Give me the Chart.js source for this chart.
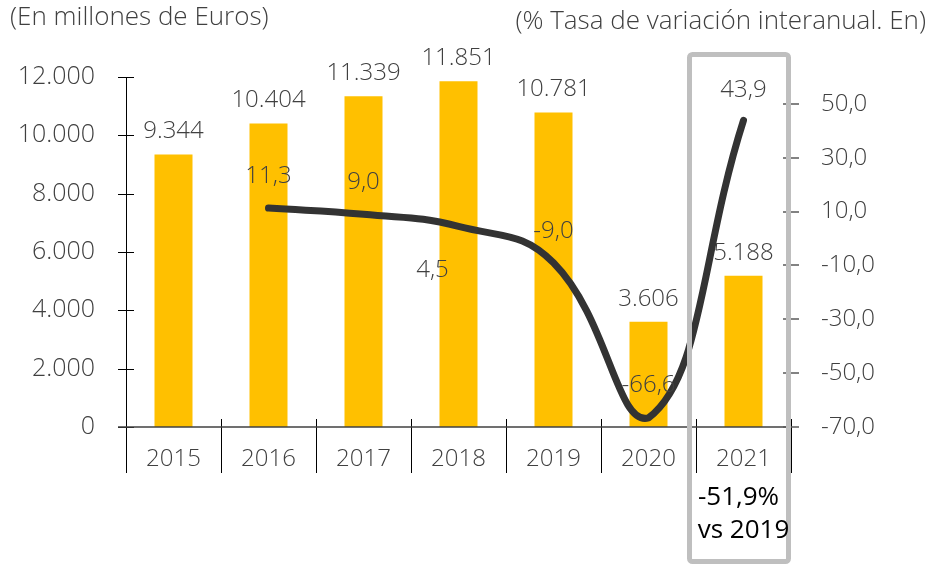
<!DOCTYPE html>
<html>
<head>
<meta charset="utf-8">
<script src="https://cdn.jsdelivr.net/npm/chart.js@4"></script>
<style>
    html, body { margin: 0; padding: 0; background: #fff; }
    #grafico { display: block; }
</style>
</head>
<body>
<canvas id="grafico" width="931" height="565"></canvas>
<script>
// datos
var anios = ['2015', '2016', '2017', '2018', '2019', '2020', '2021'];
var ventas = [9344, 10404, 11339, 11851, 10781, 3606, 5188];
var tasa = [null, 11.3, 9.0, 4.5, -9.0, -66.6, 43.9];
var ticksIzq = [0, 2000, 4000, 6000, 8000, 10000, 12000];
var ticksDer = [-70, -50, -30, -10, 10, 30, 50];
var tituloIzq = '(En millones de Euros)';
var tituloDer = '(% Tasa de variación interanual. En)';
var nota = ['-51,9%', 'vs 2019'];

// desplazamiento de las etiquetas de la linea (px)
var despTasa = [null, [0, -32], [0, -32], [-26, 44], [0, -32], [0, -33], [0, -30]];

var FUENTE = '"Open Sans", sans-serif';
var GRIS_TEXTO = '#404040';

function miles(v) {
    return String(v).replace(/\B(?=(\d{3})+(?!\d))/g, '.');
}
function coma(v) {
    return v.toFixed(1).replace('.', ',');
}

var decoracion = {
    id: 'decoracion',
    afterDatasetsDraw: function (chart) {
        var ctx = chart.ctx;
        var area = chart.chartArea;
        var x = chart.scales.x, y = chart.scales.y, y1 = chart.scales.y1;
        var paso = (area.right - area.left) / anios.length;

        ctx.save();

        // titulos
        ctx.fillStyle = GRIS_TEXTO;
        ctx.font = '300 26px ' + FUENTE;
        ctx.textBaseline = 'middle';
        ctx.textAlign = 'left';
        ctx.fillText(tituloIzq, 10, 18);
        ctx.textAlign = 'right';
        ctx.fillText(tituloDer, 926, 22);

        // eje izquierdo
        ctx.strokeStyle = '#000';
        ctx.lineWidth = 1;
        ctx.beginPath();
        ctx.moveTo(area.left + 0.5, area.top);
        ctx.lineTo(area.left + 0.5, area.bottom + 46);
        y.ticks.forEach(function (t) {
            var py = Math.round(y.getPixelForValue(t.value)) + 0.5;
            ctx.moveTo(area.left - 8, py);
            ctx.lineTo(area.left + 8, py);
        });
        // separadores de categorias
        for (var i = 1; i <= anios.length; i++) {
            var sx = Math.round(area.left + i * paso) + 0.5;
            ctx.moveTo(sx, area.bottom - 8);
            ctx.lineTo(sx, area.bottom + 46);
        }
        ctx.stroke();

        // eje x
        ctx.strokeStyle = '#404040';
        ctx.lineWidth = 1.5;
        ctx.beginPath();
        ctx.moveTo(area.left - 8, area.bottom);
        ctx.lineTo(area.right, area.bottom);
        ctx.stroke();

        // marcas eje derecho
        ctx.strokeStyle = '#595959';
        ctx.lineWidth = 1.5;
        ctx.beginPath();
        y1.ticks.forEach(function (t) {
            var py = Math.round(y1.getPixelForValue(t.value));
            ctx.moveTo(area.right - 8, py);
            ctx.lineTo(area.right + 8, py);
        });
        ctx.stroke();

        // etiquetas de barras
        ctx.fillStyle = GRIS_TEXTO;
        ctx.font = '300 24px ' + FUENTE;
        ctx.textAlign = 'center';
        ctx.textBaseline = 'middle';
        var barras = chart.getDatasetMeta(0).data;
        barras.forEach(function (b, i) {
            ctx.fillText(miles(ventas[i]), b.x, b.y - 23);
        });

        // etiquetas de la tasa
        var puntos = chart.getDatasetMeta(1).data;
        puntos.forEach(function (p, i) {
            if (tasa[i] === null) return;
            var d = despTasa[i];
            ctx.fillText(coma(tasa[i]), p.x + d[0], p.y + d[1]);
        });

        // recuadro 2021
        var cx = x.getPixelForValue(anios.length - 1);
        var izq = cx - 54, der = cx + 45;
        ctx.strokeStyle = '#BFBFBF';
        ctx.lineWidth = 5;
        ctx.beginPath();
        ctx.roundRect(izq, 54.5, der - izq, 507, 3);
        ctx.stroke();

        ctx.fillStyle = '#000';
        ctx.font = '400 26px ' + FUENTE;
        ctx.fillText(nota[0], cx - 5, 498);
        ctx.fillText(nota[1], cx, 531);

        ctx.restore();
    }
};

var ctx = document.getElementById('grafico').getContext('2d');
var chart = new Chart(ctx, {
    data: {
        labels: anios,
        datasets: [{
            type: 'bar',
            label: 'Ventas',
            data: ventas,
            yAxisID: 'y',
            backgroundColor: '#FFC000',
            barPercentage: 0.4,
            categoryPercentage: 1,
            order: 1
        }, {
            type: 'line',
            label: 'Tasa',
            data: tasa,
            yAxisID: 'y1',
            borderColor: '#333333',
            borderWidth: 7,
            borderCapStyle: 'round',
            borderJoinStyle: 'round',
            pointRadius: 0,
            tension: 0.45,
            fill: false,
            order: 0
        }]
    },
    options: {
        responsive: false,
        animation: false,
        devicePixelRatio: 1,
        layout: { padding: { top: 77, left: 0, right: 0, bottom: 0 } },
        plugins: {
            legend: { display: false },
            tooltip: { enabled: false }
        },
        scales: {
            x: {
                offset: true,
                grid: { display: false },
                border: { display: false },
                ticks: {
                    color: GRIS_TEXTO,
                    padding: 10,
                    font: { family: FUENTE, size: 24, weight: 300 }
                },
                afterFit: function (s) { s.height = 138; }
            },
            y: {
                position: 'left',
                min: 0,
                max: 12000,
                grid: { display: false },
                border: { display: false },
                afterBuildTicks: function (s) {
                    s.ticks = ticksIzq.map(function (v) { return { value: v }; });
                },
                ticks: {
                    color: GRIS_TEXTO,
                    padding: 23,
                    font: { family: FUENTE, size: 25, weight: 300 },
                    callback: function (v) { return miles(v); }
                },
                afterFit: function (s) { s.width = 126; }
            },
            y1: {
                position: 'right',
                min: -70,
                max: 60,
                grid: { display: false },
                border: { display: false },
                afterBuildTicks: function (s) {
                    s.ticks = ticksDer.map(function (v) { return { value: v }; });
                },
                ticks: {
                    color: GRIS_TEXTO,
                    padding: 22,
                    font: { family: FUENTE, size: 24, weight: 300 },
                    callback: function (v) { return coma(v); }
                },
                afterFit: function (s) { s.width = 140; }
            }
        }
    },
    plugins: [decoracion]
});
</script>
</body>
</html>
